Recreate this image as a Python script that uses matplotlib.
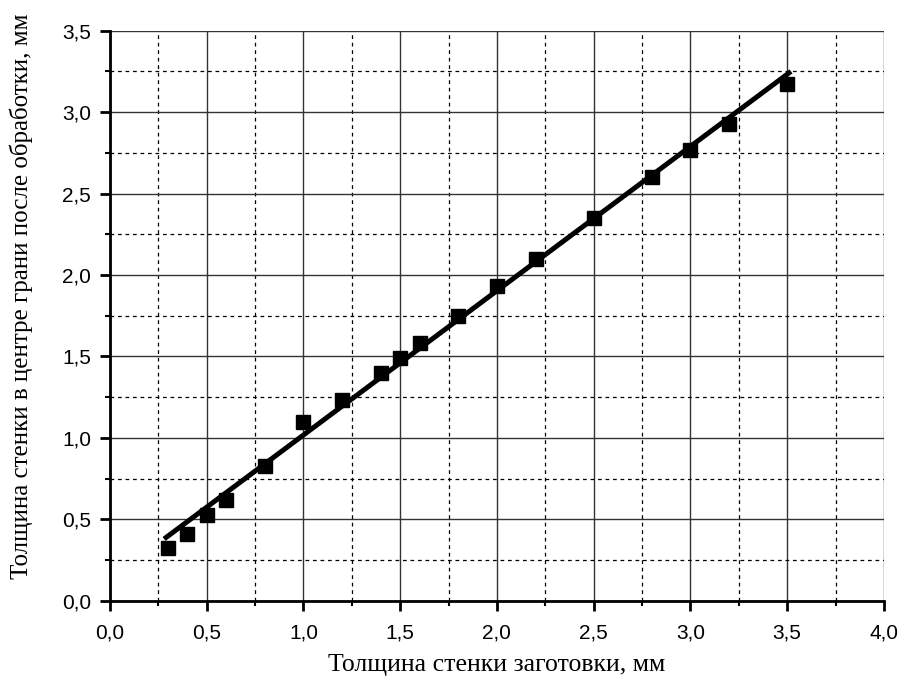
import numpy as np
import matplotlib.pyplot as plt
from matplotlib.ticker import MultipleLocator, FuncFormatter

plt.rcParams['font.family'] = 'Liberation Sans'

x_blank = [0.3, 0.4, 0.5, 0.6, 0.8, 1.0, 1.2, 1.4, 1.5, 1.6, 1.8, 2.0, 2.2, 2.5, 2.8, 3.0, 3.2, 3.5]
y_wall = [0.325, 0.41, 0.53, 0.62, 0.83, 1.10, 1.23, 1.40, 1.49, 1.58, 1.75, 1.93, 2.10, 2.35, 2.60, 2.77, 2.93, 3.17]
fit_x = [0.28, 3.52]
fit_y = [0.38, 3.25]

fig = plt.figure(figsize=(9.01, 6.82), dpi=100)
ax = fig.add_axes([0.122, 0.119, 0.859, 0.836])

ax.plot(fit_x, fit_y, color='black', lw=3.6, solid_capstyle='butt', zorder=3)
ax.plot(x_blank, y_wall, 's', color='black', ms=10, zorder=4)

ax.set_xlim(0, 4.0)
ax.set_ylim(0, 3.5)
ax.xaxis.set_major_locator(MultipleLocator(0.5))
ax.xaxis.set_minor_locator(MultipleLocator(0.25))
ax.yaxis.set_major_locator(MultipleLocator(0.5))
ax.yaxis.set_minor_locator(MultipleLocator(0.25))
comma = FuncFormatter(lambda v, p: f"{v:.1f}".replace('.', ','))
ax.xaxis.set_major_formatter(comma)
ax.yaxis.set_major_formatter(comma)

ax.grid(which='major', color='#333333', lw=1.0, ls='-')
ax.grid(which='minor', color='black', lw=0.9, ls=(0, (3, 3)))
ax.set_axisbelow(True)

for s in ['top', 'right']:
    ax.spines[s].set_visible(False)
for s in ['left', 'bottom']:
    ax.spines[s].set_linewidth(2)

ax.tick_params(which='major', direction='out', length=7.5, width=2, labelsize=15, pad=6)
ax.tick_params(axis='x', which='major', pad=9)
ax.tick_params(which='minor', direction='out', length=3.6, width=1.5)

ax.set_xlabel("Толщина стенки заготовки, мм", fontfamily='Liberation Serif', fontsize=18.5, labelpad=8)
ax.set_ylabel("Толщина стенки в центре грани после обработки, мм", fontfamily='Liberation Serif', fontsize=18)
ax.yaxis.set_label_coords(-0.1, 0.535)

fig.savefig('out.png', dpi=100)
